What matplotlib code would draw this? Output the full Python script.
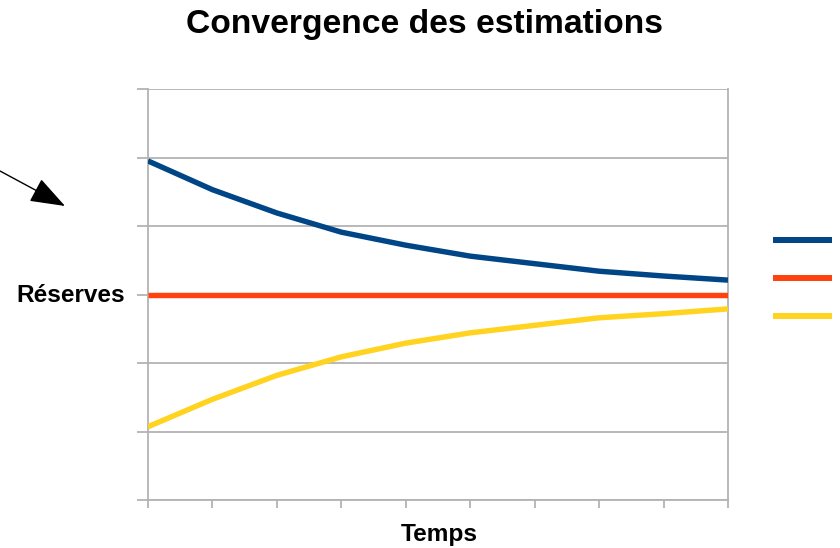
import matplotlib
matplotlib.use("Agg")
from matplotlib import pyplot as plt
from matplotlib.lines import Line2D

plt.rcParams['font.family'] = ['Liberation Sans', 'DejaVu Sans']

# time steps and the three estimations
temps = [0, 1, 2, 3, 4, 5, 6, 7, 8, 9]
estim_haute = [4.95, 4.53, 4.19, 3.91, 3.72, 3.56, 3.45, 3.34, 3.27, 3.21]
reserves_reelles = [3.0, 3.0, 3.0, 3.0, 3.0, 3.0, 3.0, 3.0, 3.0, 3.0]
estim_basse = [1.07, 1.47, 1.82, 2.09, 2.29, 2.44, 2.55, 2.66, 2.72, 2.79]
y_grid = [0, 1, 2, 3, 4, 5, 6]

blue = '#004586'
red = '#ff420e'
yellow = '#ffd320'
grey = '#b3b3b3'

fig = plt.figure(figsize=(8.4, 5.48), dpi=100)
ax = fig.add_axes([148/840, 1-500/548, 580/840, 411/548])

ax.plot(temps, estim_haute, color=blue, lw=3.9, solid_capstyle='butt', zorder=3)
ax.plot(temps, reserves_reelles, color=red, lw=3.9, solid_capstyle='butt', zorder=3)
ax.plot(temps, estim_basse, color=yellow, lw=3.9, solid_capstyle='butt', zorder=3)

ax.set_xlim(0, 9)
ax.set_ylim(0, 6)
ax.set_xticks(temps)
ax.set_yticks(y_grid)
ax.set_xticklabels([])
ax.set_yticklabels([])
ax.grid(axis='y', color=grey, lw=1.3)
ax.tick_params(axis='y', length=8, width=1.3, color=grey, direction='out')
ax.tick_params(axis='x', length=6, width=1.3, color=grey, direction='out')
for side in ['left', 'bottom', 'right']:
    ax.spines[side].set_color(grey)
    ax.spines[side].set_linewidth(1.3)
ax.spines['top'].set_visible(False)

fig.text(425/840, 1-24/548, 'Convergence des estimations', ha='center', va='center',
         fontsize=24.2, fontweight='bold')
fig.text(125/840, 1-295/548, 'Réserves', ha='right', va='center',
         fontsize=17.6, fontweight='bold')
fig.text(439/840, 1-535/548, 'Temps', ha='center', va='center',
         fontsize=17.6, fontweight='bold')

handles = [Line2D([], [], color=c, lw=4.3, solid_capstyle='butt') for c in [blue, red, yellow]]
fig.legend(handles, ['', '', ''], loc='center left', bbox_to_anchor=(767/840, 1-279/548),
           frameon=False, handlelength=4.3, labelspacing=1.75, fontsize=10,
           handletextpad=0.2, borderaxespad=0)

ax.annotate('', xy=(65/840, 1-206/548), xytext=(0, 1-171/548),
            xycoords='figure fraction', textcoords='figure fraction',
            arrowprops=dict(arrowstyle='-|>,head_length=1.1,head_width=0.4',
                            mutation_scale=20, lw=1, color='black',
                            shrinkA=0, shrinkB=0))

fig.savefig('out.png', dpi=100)
